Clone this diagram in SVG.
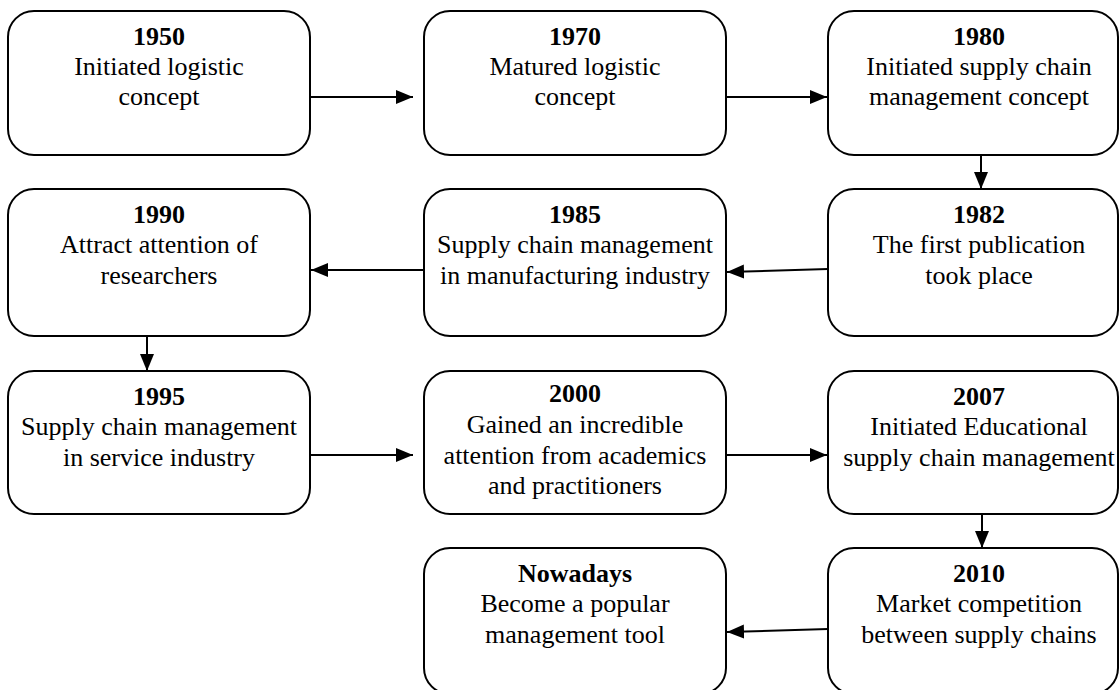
<svg xmlns="http://www.w3.org/2000/svg" width="1119" height="690" viewBox="0 0 1119 690">
<style>
.box{fill:#fff;stroke:#000;stroke-width:2}
.t{font-family:"Liberation Serif","Times New Roman",serif;font-size:26px;fill:#000;text-anchor:middle}
.b{font-weight:bold}
.c{fill:none;stroke:#000;stroke-width:2;marker-end:url(#ah)}
</style>
<defs>
<marker id="ah" markerUnits="userSpaceOnUse" markerWidth="18" markerHeight="14" refX="17" refY="7" orient="auto">
<path d="M0,0 L17,7 L0,14 z" fill="#000"/>
</marker>
</defs>
<rect width="1119" height="690" fill="#fff"/>
<g id="connectors">
<line class="c" x1="310" y1="97" x2="413" y2="97"/>
<line class="c" x1="726" y1="97" x2="827" y2="97"/>
<line class="c" x1="981" y1="155" x2="981" y2="189"/>
<line class="c" x1="828" y1="269" x2="727" y2="272"/>
<line class="c" x1="424" y1="270" x2="311" y2="270"/>
<line class="c" x1="147" y1="336" x2="147" y2="371"/>
<line class="c" x1="310" y1="455" x2="413" y2="455"/>
<line class="c" x1="726" y1="455" x2="827" y2="455"/>
<line class="c" x1="982" y1="514" x2="982" y2="548"/>
<line class="c" x1="828" y1="629" x2="727" y2="632"/>
</g>
<g id="n1950">
<rect class="box" x="8" y="11" width="302" height="144" rx="26"/>
<text class="t b" x="159" y="45">1950</text>
<text class="t" x="159" y="75">Initiated logistic</text>
<text class="t" x="159" y="105">concept</text>
</g>
<g id="n1970">
<rect class="box" x="424" y="11" width="302" height="144" rx="26"/>
<text class="t b" x="575" y="45">1970</text>
<text class="t" x="575" y="75">Matured logistic</text>
<text class="t" x="575" y="105">concept</text>
</g>
<g id="n1980">
<rect class="box" x="828" y="11" width="290" height="144" rx="26"/>
<text class="t b" x="979" y="45">1980</text>
<text class="t" x="979" y="75">Initiated supply chain</text>
<text class="t" x="979" y="105">management concept</text>
</g>
<g id="n1982">
<rect class="box" x="828" y="189" width="290" height="147" rx="26"/>
<text class="t b" x="979" y="223">1982</text>
<text class="t" x="979" y="253">The first publication</text>
<text class="t" x="979" y="284">took place</text>
</g>
<g id="n1985">
<rect class="box" x="424" y="189" width="302" height="147" rx="26"/>
<text class="t b" x="575" y="223">1985</text>
<text class="t" x="575" y="253">Supply chain management</text>
<text class="t" x="575" y="284">in manufacturing industry</text>
</g>
<g id="n1990">
<rect class="box" x="8" y="189" width="302" height="147" rx="26"/>
<text class="t b" x="159" y="223">1990</text>
<text class="t" x="159" y="253">Attract attention of</text>
<text class="t" x="159" y="284">researchers</text>
</g>
<g id="n1995">
<rect class="box" x="8" y="371" width="302" height="143" rx="26"/>
<text class="t b" x="159" y="405">1995</text>
<text class="t" x="159" y="435">Supply chain management</text>
<text class="t" x="159" y="466">in service industry</text>
</g>
<g id="n2000">
<rect class="box" x="424" y="371" width="302" height="143" rx="26"/>
<text class="t b" x="575" y="402">2000</text>
<text class="t" x="575" y="433">Gained an incredible</text>
<text class="t" x="575" y="464">attention from academics</text>
<text class="t" x="575" y="494">and practitioners</text>
</g>
<g id="n2007">
<rect class="box" x="828" y="371" width="290" height="143" rx="26"/>
<text class="t b" x="979" y="405">2007</text>
<text class="t" x="979" y="435">Initiated Educational</text>
<text class="t" x="979" y="466">supply chain management</text>
</g>
<g id="n2010">
<rect class="box" x="828" y="548" width="290" height="146" rx="26"/>
<text class="t b" x="979" y="582">2010</text>
<text class="t" x="979" y="612">Market competition</text>
<text class="t" x="979" y="643">between supply chains</text>
</g>
<g id="nNowadays">
<rect class="box" x="424" y="548" width="302" height="146" rx="26"/>
<text class="t b" x="575" y="582">Nowadays</text>
<text class="t" x="575" y="612">Become a popular</text>
<text class="t" x="575" y="643">management tool</text>
</g>
</svg>
